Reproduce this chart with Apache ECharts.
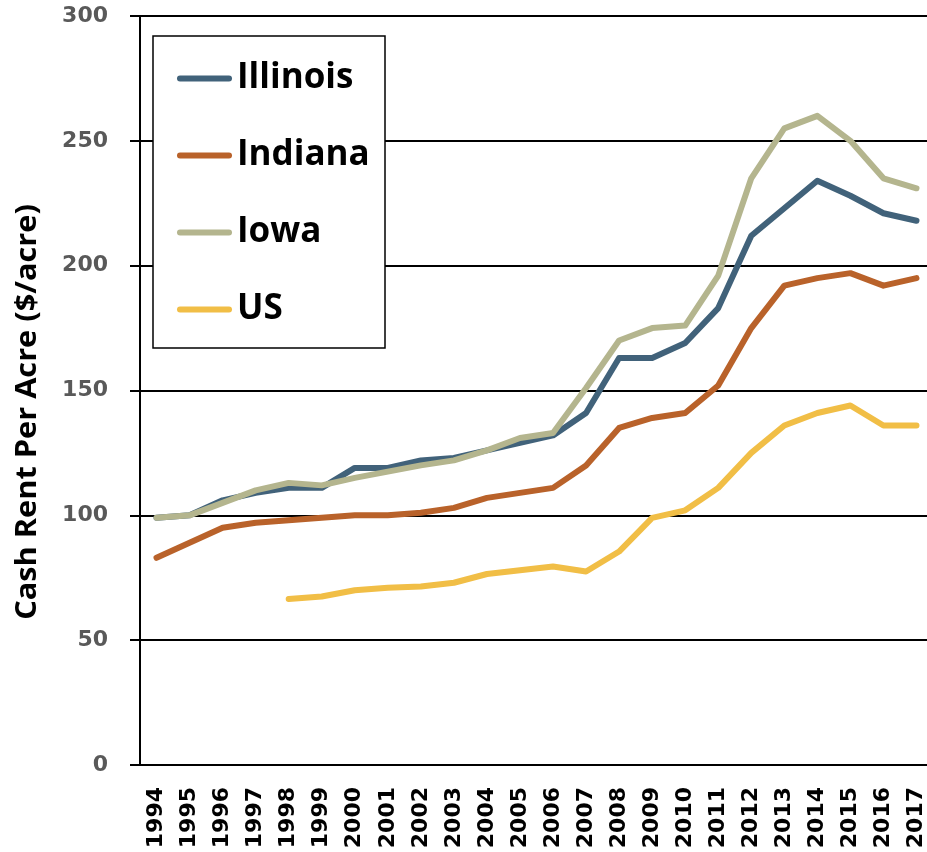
<!DOCTYPE html>
<html>
<head>
<meta charset="utf-8">
<title>Cash Rent Per Acre</title>
<script src="https://cdn.jsdelivr.net/npm/echarts@6/dist/echarts.min.js"></script>
<style>
  html, body { margin: 0; padding: 0; background: #fff; }
  #chart { width: 927px; height: 852px; }
</style>
</head>
<body>
<div id="chart"></div>
<script>
const years = ['1994', '1995', '1996', '1997', '1998', '1999', '2000', '2001', '2002', '2003', '2004', '2005',
               '2006', '2007', '2008', '2009', '2010', '2011', '2012', '2013', '2014', '2015', '2016', '2017'];

const illinois = [99, 100, 106, 109, 111, 111, 119, 119, 122, 123, 126, 129, 132, 141, 163, 163, 169, 183, 212, 223, 234, 228, 221, 218];
const indiana  = [83, 89, 95, 97, 98, 99, 100, 100, 101, 103, 107, 109, 111, 120, 135, 139, 141, 152, 175, 192, 195, 197, 192, 195];
const iowa     = [99, 100, 105, 110, 113, 112, 115, 117.5, 120, 122, 126, 131, 133, 151, 170, 175, 176, 196, 235, 255, 260, 250, 235, 231];
const us       = [null, null, null, null, 66.5, 67.5, 70, 71, 71.5, 73, 76.5, 78, 79.5, 77.5, 85.5, 99, 102, 111, 125, 136, 141, 144, 136, 136];

const seriesNames = ['Illinois', 'Indiana', 'Iowa', 'US'];
const seriesColors = ['#41627a', '#b9622a', '#b4b58e', '#f1be46'];
const seriesData = [illinois, indiana, iowa, us];

const chart = echarts.init(document.getElementById('chart'));

const option = {
    animation: false,
    backgroundColor: '#fff',
    grid: { left: 140, top: 16, bottom: 87, right: -6, containLabel: false, outerBoundsMode: 'none' },
    legend: {
        data: seriesNames,
        orient: 'vertical',
        left: 177,
        top: 61,
        padding: 0,
        itemGap: 42,
        itemWidth: 55,
        itemHeight: 6,
        z: 20,
        icon: 'path://M3,0H52A3,3,0,0,1,52,6H3A3,3,0,0,1,3,0Z',
        textStyle: { color: '#000', fontSize: 35, fontWeight: 'bold', fontFamily: 'Open Sans', lineHeight: 35 }
    },
    graphic: [
        {
            type: 'rect',
            shape: { x: 153, y: 36, width: 232, height: 312 },
            style: { fill: '#fff', stroke: '#000', lineWidth: 1.5 },
            z: 10
        },
        {
            type: 'text',
            x: 28,
            y: 412,
            rotation: Math.PI / 2,
            scaleX: 1.06,
            style: {
                text: 'Cash Rent Per Acre ($/acre)',
                fill: '#000',
                font: 'bold 29px "Open Sans"',
                textAlign: 'center',
                textVerticalAlign: 'middle'
            }
        }
    ],
    xAxis: {
        type: 'category',
        data: years,
        boundaryGap: true,
        axisLine: { lineStyle: { color: '#000', width: 2 } },
        axisTick: { show: false },
        axisLabel: {
            interval: 0,
            rotate: 90,
            margin: 22,
            color: '#000',
            fontSize: 22,
            fontWeight: 'bold',
            fontFamily: 'DejaVu Sans'
        },
        splitLine: { show: false }
    },
    yAxis: {
        type: 'value',
        min: 0,
        max: 300,
        interval: 50,
        axisLine: { show: true, lineStyle: { color: '#000', width: 2 } },
        axisTick: { show: true, inside: false, length: 10, lineStyle: { color: '#000', width: 2 } },
        axisLabel: {
            margin: 32,
            color: '#595959',
            fontSize: 22,
            fontWeight: 'bold',
            fontFamily: 'DejaVu Sans'
        },
        splitLine: { show: true, lineStyle: { color: '#000', width: 2 } }
    },
    series: seriesNames.map((name, i) => ({
        name: name,
        type: 'line',
        data: seriesData[i],
        symbol: 'none',
        connectNulls: false,
        color: seriesColors[i],
        lineStyle: { width: 6, color: seriesColors[i], cap: 'round', join: 'round' },
        z: 2 + i
    }))
};

chart.setOption(option);
window.addEventListener('resize', () => chart.resize());
</script>
</body>
</html>
